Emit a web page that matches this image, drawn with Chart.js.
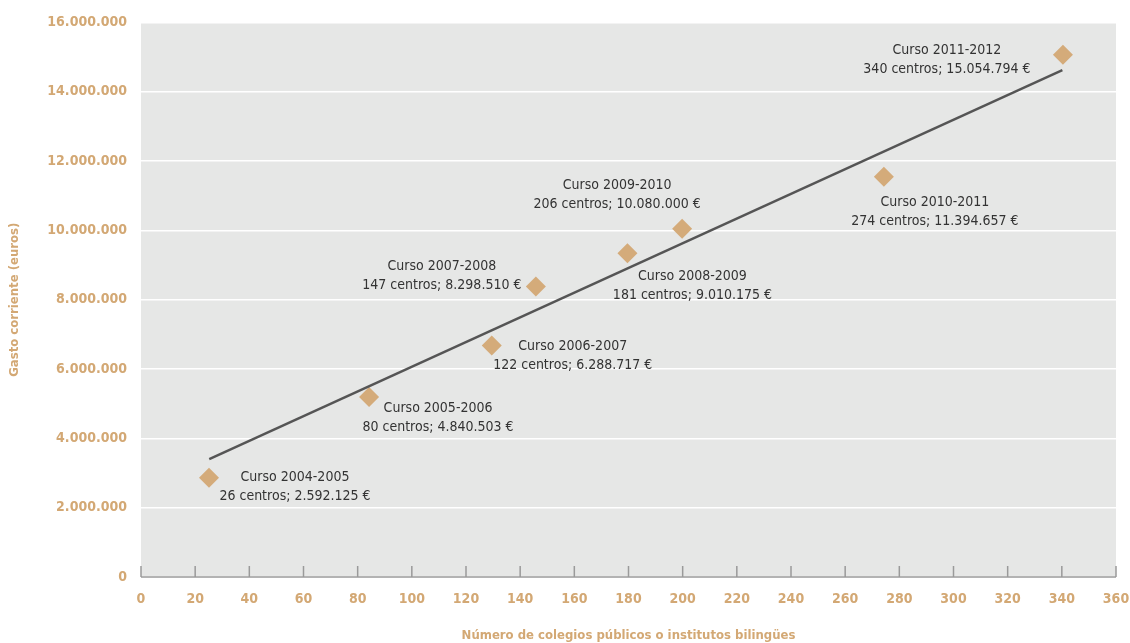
<!DOCTYPE html>
<html>
<head>
<meta charset="utf-8">
<script src="https://cdn.jsdelivr.net/npm/chart.js@4"></script>
<style>
  html, body { margin: 0; padding: 0; background: #fff; }
  #wrap { width: 1130px; height: 643px; }
</style>
</head>
<body>
<div id="wrap"><canvas id="gasto"></canvas></div>
<script>
// values
const cursos = ['Curso 2004-2005', 'Curso 2005-2006', 'Curso 2006-2007', 'Curso 2007-2008',
  'Curso 2008-2009', 'Curso 2009-2010', 'Curso 2010-2011', 'Curso 2011-2012'];
const detalles = ['26 centros; 2.592.125 €', '80 centros; 4.840.503 €', '122 centros; 6.288.717 €',
  '147 centros; 8.298.510 €', '181 centros; 9.010.175 €', '206 centros; 10.080.000 €',
  '274 centros; 11.394.657 €', '340 centros; 15.054.794 €'];
const centros = [25.1, 84.2, 129.5, 145.8, 179.6, 199.8, 274.3, 340.4];
const gasto = [2860000, 5190000, 6680000, 8380000, 9340000, 10050000, 11550000, 15070000];
const tendenciaX = [25.2, 340.2];
const tendenciaY = [3400000, 14620000];

const tan = '#d3a874';
const narrow = "'DejaVu Sans Condensed', sans-serif";

const fmt = v => String(v).replace(/\B(?=(\d{3})+(?!\d))/g, '.');

const fondo = {
  id: 'fondo',
  beforeDraw(chart) {
    const { ctx, chartArea: a } = chart;
    ctx.save();
    ctx.fillStyle = '#e6e7e6';
    ctx.fillRect(a.left, a.top, a.right - a.left, a.bottom - a.top);
    ctx.restore();
  },
  afterDraw(chart) {
    // x axis line with ticks pointing up
    const { ctx, chartArea: a, scales } = chart;
    ctx.save();
    ctx.strokeStyle = '#9a9a9a';
    ctx.lineWidth = 1.5;
    ctx.beginPath();
    ctx.moveTo(a.left, a.bottom);
    ctx.lineTo(a.right, a.bottom);
    scales.x.ticks.forEach(t => {
      const px = scales.x.getPixelForValue(t.value);
      ctx.moveTo(px, a.bottom);
      ctx.lineTo(px, a.bottom - 11);
    });
    ctx.stroke();
    ctx.restore();
  }
};

// text boxes next to each point
const etiquetas = {
  id: 'etiquetas',
  afterDatasetsDraw(chart) {
    const offs = [[86, -1], [69, 11], [81, 1], [-94, -20], [65, 23], [-65, -43], [51, 26], [-116, -4]];
    const { ctx, scales } = chart;
    ctx.save();
    ctx.fillStyle = '#333';
    ctx.font = '14px ' + narrow;
    ctx.textAlign = 'center';
    ctx.textBaseline = 'middle';
    cursos.forEach((c, i) => {
      const px = scales.x.getPixelForValue(centros[i]) + offs[i][0];
      const py = scales.y.getPixelForValue(gasto[i]) + offs[i][1];
      ctx.fillText(c, px, py);
      ctx.fillText(detalles[i], px, py + 19);
    });
    ctx.restore();
  }
};

new Chart(document.getElementById('gasto'), {
  type: 'scatter',
  data: {
    datasets: [
      {
        type: 'line',
        data: tendenciaX.map((x, i) => ({ x: x, y: tendenciaY[i] })),
        borderColor: '#555',
        borderWidth: 2.5,
        pointRadius: 0,
        fill: false,
      },
      {
        data: centros.map((x, i) => ({ x: x, y: gasto[i] })),
        pointStyle: 'rectRot',
        pointRadius: 10,
        pointHoverRadius: 10,
        backgroundColor: '#d4ab7a',
        borderWidth: 0,
      },
    ],
  },
  options: {
    responsive: true,
    maintainAspectRatio: false,
    animation: false,
    layout: { padding: { left: 0, right: 14, top: 18, bottom: 0 } },
    plugins: { legend: { display: false }, tooltip: { enabled: false } },
    scales: {
      x: {
        type: 'linear',
        min: 0,
        max: 360,
        afterFit(scale) { scale.height = 66; scale.paddingRight = 0; scale.paddingLeft = 0; },
        grid: { display: false, drawTicks: false },
        border: { display: false },
        ticks: { stepSize: 20, color: tan, padding: 14, font: { family: narrow, size: 14, weight: 'bold' } },
        title: {
          display: true,
          text: 'Número de colegios públicos o institutos bilingües',
          color: tan,
          padding: { top: 0, bottom: 0 },
          font: { family: narrow, size: 13, weight: 'bold' },
        },
      },
      y: {
        min: 0,
        max: 16000000,
        afterFit(scale) { scale.width = 141; },
        grid: { color: '#fff', lineWidth: 1.5, drawTicks: false },
        border: { display: false },
        ticks: { stepSize: 2000000, color: tan, padding: 14, callback: v => fmt(v), font: { family: narrow, size: 14, weight: 'bold' } },
        title: {
          display: true,
          text: 'Gasto corriente (euros)',
          color: tan,
          padding: { top: 7, bottom: 0 },
          font: { family: narrow, size: 13, weight: 'bold' },
        },
      },
    },
  },
  plugins: [fondo, etiquetas],
});
</script>
</body>
</html>
